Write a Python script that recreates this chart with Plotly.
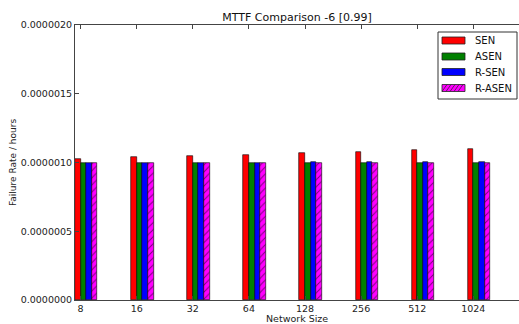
import plotly.graph_objects as go

categories = ["8", "16", "32", "64", "128", "256", "512", "1024"]
sen = [1.025e-6, 1.037e-6, 1.047e-6, 1.058e-6, 1.066e-6, 1.077e-6, 1.089e-6, 1.101e-6]
asen = [1.0e-6] * 8
rsen = [1.0e-6, 1.0e-6, 1.0e-6, 1.0e-6, 1.001e-6, 1.001e-6, 1.002e-6, 1.005e-6]
rasen = [0.999e-6] * 8
y_ticks = [0, 0.5e-6, 1.0e-6, 1.5e-6, 2.0e-6]
y_tick_text = ["0.0000000", "0.0000005", "0.0000010", "0.0000015", "0.0000020"]

width = 0.1
idx = list(range(len(categories)))
FONT = "DejaVu Sans"
W, H = 519, 324
L, R, T, B = 75, 0, 25, 24
PW, PH = W - L - R, H - T - B

series = [
    ("SEN", sen, "#ff0000", ""),
    ("ASEN", asen, "#008000", ""),
    ("R-SEN", rsen, "#0000ff", ""),
    ("R-ASEN", rasen, "#ff00ff", "/"),
]

def px(x):
    return (x - L) / PW

def py(y):
    return (H - B - y) / PH

fig = go.Figure()
for k, (name, vals, color, pat) in enumerate(series):
    fig.add_trace(go.Bar(
        x=[i + width * (k + 0.5) for i in idx],
        y=vals,
        width=width,
        name=name,
        showlegend=False,
        marker=dict(
            color=color,
            line=dict(color="black", width=0.6),
            pattern=dict(shape=pat, fgcolor="black", bgcolor=color, size=5, solidity=0.2) if pat else None,
        ),
    ))

# manual legend (matplotlib-style)
shapes = [dict(type="rect", xref="paper", yref="paper", x0=px(438), x1=px(517), y0=py(32), y1=py(99),
               line=dict(color="#333", width=1), fillcolor="white", layer="above")]
annotations = []
rows = [40.5, 56.5, 72, 88]
for (name, vals, color, pat), yc in zip(series, rows):
    shapes.append(dict(type="rect", xref="paper", yref="paper", x0=px(442), x1=px(465),
                       y0=py(yc + 3.5), y1=py(yc - 3.5), line=dict(color="#222", width=0.8),
                       fillcolor=color, layer="above"))
    if pat:
        for xs in range(442, 466, 4):
            x0, x1 = xs, xs + 5
            y0, y1 = yc + 3.5, yc - 3.5
            if x1 > 465:
                continue
            shapes.append(dict(type="line", xref="paper", yref="paper", x0=px(x0), x1=px(x1),
                               y0=py(y0), y1=py(y1), line=dict(color="#222", width=0.7), layer="above"))
    annotations.append(dict(text=name, xref="paper", yref="paper", x=px(473), y=py(yc),
                            xanchor="left", yanchor="middle", showarrow=False,
                            font=dict(size=10, color="#111")))

annotations.append(dict(text="Network Size", xref="paper", yref="paper", x=px(297), y=py(318),
                        xanchor="center", yanchor="middle", showarrow=False,
                        font=dict(size=9.5, color="#222")))

fig.update_layout(
    width=W, height=H,
    margin=dict(l=L, r=R, t=T, b=B, autoexpand=False),
    paper_bgcolor="white", plot_bgcolor="white",
    font=dict(family=FONT, size=9, color="#222"),
    title=dict(text="MTTF Comparison -6 [0.99]", x=(L + W) / 2 / W, xanchor="center",
               y=1 - 17 / H, yanchor="middle", font=dict(size=11, color="#111"), automargin=False),
    showlegend=False,
    bargap=0,
    shapes=shapes,
    annotations=annotations,
)
fig.update_xaxes(
    range=[0, PW / 56.1], tickvals=[i + width for i in idx], ticktext=categories,
    ticks="inside", ticklen=4, tickcolor="#444", showline=True, linecolor="#444", linewidth=1,
    mirror="ticks", showgrid=False, zeroline=False, automargin=False,
    tickfont=dict(size=9.5),
)
fig.update_yaxes(
    range=[0, 2.0e-6], tickvals=y_ticks, ticktext=y_tick_text,
    ticks="inside", ticklen=4, tickcolor="#444", showline=True, linecolor="#444", linewidth=1,
    showgrid=False, zeroline=False, automargin=False,
    title=dict(text="Failure Rate / hours", font=dict(size=9), standoff=2),
    tickfont=dict(size=9.5),
)

fig.write_html("out.html", config={"displayModeBar": False},
               post_script="document.body.style.margin='0';document.body.style.overflow='hidden';")
